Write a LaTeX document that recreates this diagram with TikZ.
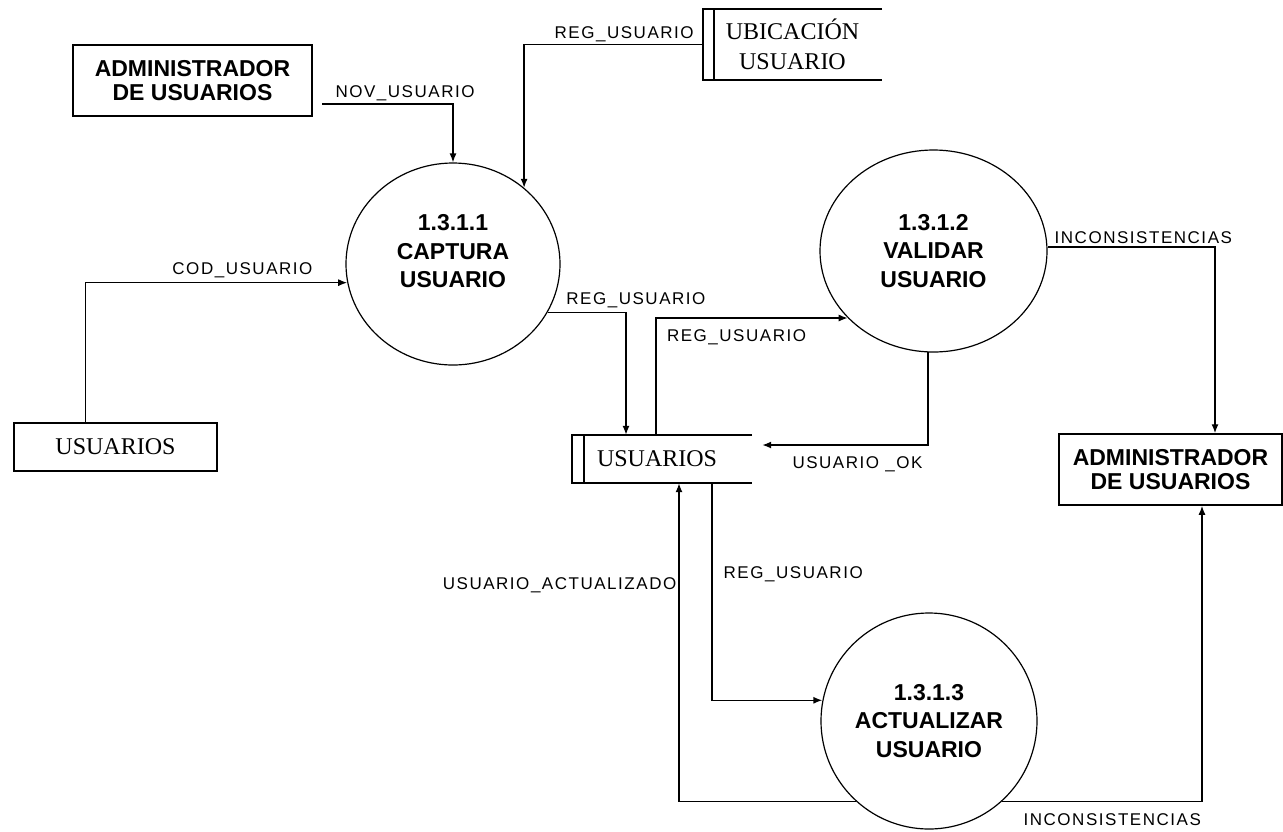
\documentclass[tikz,border=0pt]{standalone}
\usepackage{fontspec}
\usetikzlibrary{arrows.meta,shapes.geometric}
\newfontfamily\procfont{Liberation Sans}
\newfontfamily\flowfont{Liberation Sans}[LetterSpace=9]
\newfontfamily\storefont{Liberation Serif}

\begin{document}
\begin{tikzpicture}[x=1pt,y=-1pt,
  process/.style={ellipse, draw, line width=1.2pt, inner sep=0pt, align=center,
    font=\procfont\bfseries\fontsize{23}{28.5}\selectfont},
  entity/.style={rectangle, draw, line width=1.5pt, inner sep=0pt, align=center,
    font=\procfont\bfseries\fontsize{23}{24}\selectfont},
  datastore/.style={rectangle, inner sep=0pt, align=center,
    font=\storefont\fontsize{24}{30}\selectfont},
  storeline/.style={line width=1.5pt},
  flow/.style={draw, line width=1.4pt, -{Latex[length=9pt,width=7pt]}},
  flowlabel/.style={font=\flowfont\fontsize{17}{20}\selectfont, inner sep=2pt},
]
\useasboundingbox (0,0) rectangle (1283,831);

% external entities
\node[entity, minimum width=239pt, minimum height=71pt] (admin1) at (192.5,80.5)
  {ADMINISTRADOR\\DE USUARIOS};
\node[entity, minimum width=223pt, minimum height=71pt] (admin2) at (1170.5,469.5)
  {ADMINISTRADOR\\DE USUARIOS};
\node[rectangle, draw, line width=1.5pt, inner sep=0pt, minimum width=203pt, minimum height=48pt,
  font=\storefont\fontsize{24}{30}\selectfont] (usrL) at (115.5,447) {USUARIOS};

% processes
\node[process, minimum width=214pt, minimum height=202pt, text depth=26pt] (c1) at (453,264)
  {1.3.1.1\\CAPTURA\\USUARIO};
\node[process, minimum width=227pt, minimum height=202pt] (c2) at (933.5,251)
  {1.3.1.2\\VALIDAR\\USUARIO};
\node[process, minimum width=216pt, minimum height=216pt] (c3) at (929,721)
  {1.3.1.3\\ACTUALIZAR\\USUARIO};

% data stores (open on the right)
\node[datastore, minimum width=179pt, minimum height=71pt] (ubic) at (792.5,44.5)
  {UBICACIÓN\\USUARIO};
\draw[storeline] (ubic.north east) -- (ubic.north west) -- (ubic.south west) -- (ubic.south east);
\draw[storeline] ([xshift=11pt]ubic.north west) -- ([xshift=11pt]ubic.south west);

\node[datastore, minimum width=180pt, minimum height=48pt, text width=130pt, align=left] (usu)
  at (662,459) {USUARIOS};
\draw[storeline] (usu.north east) -- (usu.north west) -- (usu.south west) -- (usu.south east);
\draw[storeline] ([xshift=12pt]usu.north west) -- ([xshift=12pt]usu.south west);

% data flows
\coordinate (novstart) at (322,104);
\draw[flow] (novstart) -| (c1)
  node[flowlabel, above=0pt, pos=0.317] {NOV\_USUARIO};
\draw[flow] (ubic.west) -| (c1.47.5)
  node[flowlabel, above=0pt, pos=0.22] {REG\_USUARIO};
\draw[flow] ([xshift=72pt]usrL.north west) |- (c1.190)
  node[flowlabel, above=2pt, pos=0.8] {COD\_USUARIO};
\draw[flow] (c1.-27) -| ([xshift=-36pt]usu.north)
  node[flowlabel, anchor=south west, pos=0, xshift=16pt, yshift=2pt] {REG\_USUARIO};
\draw[flow] ([xshift=-6pt]usu.north) |- (c2.218)
  node[flowlabel, below=9pt, pos=0.71] {REG\_USUARIO};
\coordinate (okend) at ([shift={(10pt,14pt)}]usu.east);
\draw[flow] (c2.267) |- (okend)
  node[flowlabel, below=9pt, pos=0.713] {USUARIO \_OK};
\draw[flow] (c2.2) -| ([xshift=44.5pt]admin2.north)
  node[flowlabel, above=1pt, pos=0.286] {INCONSISTENCIAS};
\draw[flow] ([xshift=50pt]usu.south) |- (c3.169)
  node[flowlabel, right=9pt, pos=0.21] {REG\_USUARIO};
\draw[flow] (c3.228.6) -| ([xshift=17pt]usu.south)
  node[flowlabel, left=0pt, pos=0.84] {USUARIO\_ACTUALIZADO};
\draw[flow] (c3.-48.6) -| ([xshift=31.5pt]admin2.south)
  node[flowlabel, below=9pt, pos=0.276] {INCONSISTENCIAS};
\end{tikzpicture}
\end{document}
